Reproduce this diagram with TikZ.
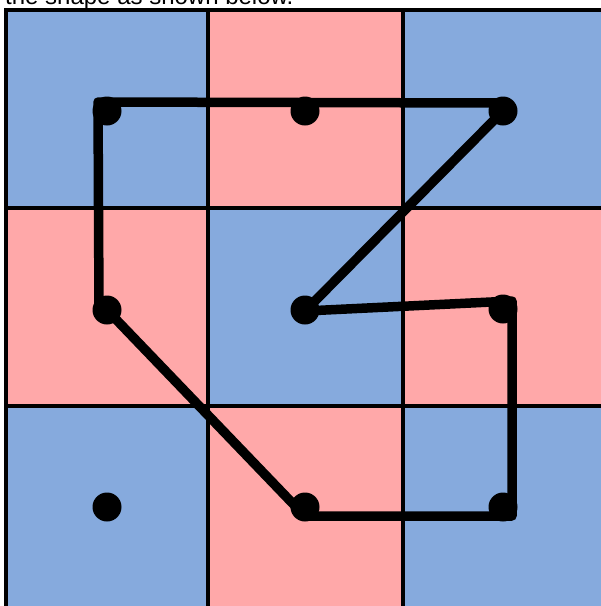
\documentclass[tikz,border=0pt]{standalone}
\usepackage{fontspec}
\setmainfont{Liberation Sans}
\usetikzlibrary{calc}
\definecolor{cellblue}{RGB}{134,170,221}
\definecolor{cellpink}{RGB}{255,168,169}
\tikzset{
  gridline/.style={line width=3.6pt, draw=black},
  dotnode/.style={circle, fill=black, inner sep=0pt, minimum size=29pt},
  pathline/.style={line width=9.5pt, line join=round, line cap=round, draw=black},
}
\begin{document}
\begin{tikzpicture}[x=1pt,y=-1pt]
\useasboundingbox (0,0) rectangle (601,606);
\fill[white] (0,0) rectangle (601,606);
% caption (cropped at the top)
\node[anchor=base west, inner sep=0pt, font=\fontsize{24pt}{28pt}\selectfont] (cap) at (5,4) {the shape as shown below.};
% cells
\fill[cellblue] (6,10) rectangle (208,208);
\fill[cellpink] (208,10) rectangle (403,208);
\fill[cellblue] (403,10) rectangle (604,208);
\fill[cellpink] (6,208) rectangle (208,406);
\fill[cellblue] (208,208) rectangle (403,406);
\fill[cellpink] (403,208) rectangle (604,406);
\fill[cellblue] (6,406) rectangle (208,610);
\fill[cellpink] (208,406) rectangle (403,610);
\fill[cellblue] (403,406) rectangle (604,610);
% grid lines
\draw[gridline] (6,610) -- (6,10) -- (604,10);
\draw[gridline] (208,10) -- (208,610);
\draw[gridline] (403,10) -- (403,610);
\draw[gridline] (6,208) -- (604,208);
\draw[gridline] (6,406) -- (604,406);
% dots
\node[dotnode] (d11) at (107,111) {};
\node[dotnode] (d12) at (305,111) {};
\node[dotnode] (d13) at (503,111) {};
\node[dotnode] (d21) at (107,310) {};
\node[dotnode] (d22) at (305,310) {};
\node[dotnode] (d23) at (503,309) {};
\node[dotnode] (d31) at (107,507) {};
\node[dotnode] (d32) at (305,507) {};
\node[dotnode] (d33) at (503,507) {};
% path corners
\coordinate (pA) at ($(d11)+(-9,-9)$);
\coordinate (pB) at ($(d13)+(0,-8)$);
\coordinate (pC) at ($(d22)+(0,1)$);
\coordinate (pD) at ($(d23)+(9,-8)$);
\coordinate (pE) at ($(d33)+(9,9)$);
\coordinate (pF) at ($(d32)+(0,9)$);
\coordinate (pG) at ($(d32)+(-6,3)$);
\coordinate (pH) at ($(d21)+(-8,0)$);
\draw[pathline] (pA) -- (pB) -- (d13.center) -- (pC) -- (pD) -- (pE) -- (pF) -- (pG) -- (d21.center) -- (pH) -- cycle;
\end{tikzpicture}
\end{document}
